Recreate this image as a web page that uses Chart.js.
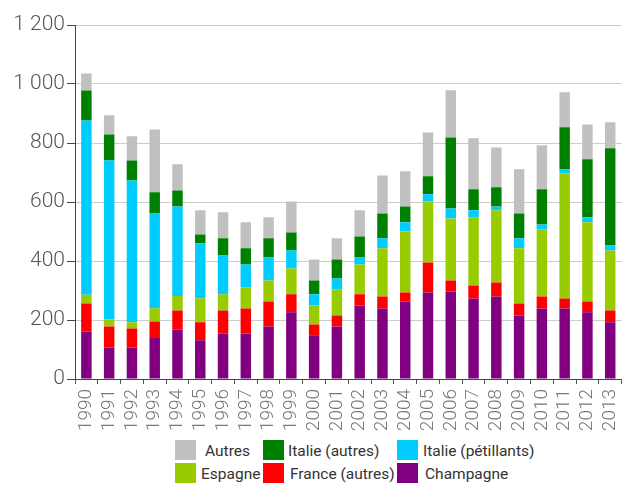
<!DOCTYPE html>
<html>
<head>
<meta charset="utf-8">
<script src="https://cdn.jsdelivr.net/npm/chart.js@4.4.1/dist/chart.umd.min.js"></script>
<style>
  html, body { margin: 0; padding: 0; background: #fff; overflow: hidden; }
  #wrap { position: relative; width: 633px; height: 485px; overflow: hidden; }
  #chart { position: absolute; left: 0; top: 0; }
  .legend { position: absolute; font-family: 'Roboto', sans-serif; font-size: 15.5px; color: #333; }
  .item { position: absolute; white-space: nowrap; line-height: 20px; }
  .item span.box { position: absolute; left: 0; top: 0; width: 21px; height: 20px; }
</style>
</head>
<body>
<div id="wrap">
  <canvas id="chart" width="638" height="436"></canvas>
  <div class="legend" id="legend"></div>
</div>
<script>
// Data (millions of bottles)
const years = ['1990','1991','1992','1993','1994','1995','1996','1997','1998','1999','2000','2001',
               '2002','2003','2004','2005','2006','2007','2008','2009','2010','2011','2012','2013'];
const champagne    = [161,107,107,139,168,131,154,154,178,226,148,178,249,239,263,293,297,273,280,215,239,239,226,192];
const franceAutres = [95,71,64,56,64,61,78,85,85,61,37,37,38,41,30,102,37,44,47,41,41,34,37,40];
const espagne      = [30,24,21,45,49,82,55,71,71,88,64,89,101,163,207,207,210,231,245,187,227,424,268,204];
const italiePet    = [590,539,481,321,304,186,132,78,78,61,38,37,24,34,31,24,34,24,13,34,17,14,17,17];
const italieAutres = [102,88,68,72,54,30,58,55,65,61,47,64,71,84,54,61,241,71,65,84,119,142,197,329];
const autres       = [58,65,82,213,89,82,88,88,71,105,71,72,89,129,119,149,160,173,135,150,149,119,118,88];
const yTicks = [0, 200, 400, 600, 800, 1000, 1200];

const series = [
    { label: 'Champagne',           data: champagne,    color: '#800080' },
    { label: 'France (autres)',     data: franceAutres, color: '#ff0000' },
    { label: 'Espagne',             data: espagne,      color: '#99cc00' },
    { label: 'Italie (pétillants)', data: italiePet,    color: '#00ccff' },
    { label: 'Italie (autres)',     data: italieAutres, color: '#008000' },
    { label: 'Autres',              data: autres,       color: '#c0c0c0' }
];

const fmt = v => String(v).replace(/\B(?=(\d{3})+(?!\d))/g, ' ');

new Chart(document.getElementById('chart'), {
    type: 'bar',
    data: {
        labels: years,
        datasets: series.map(s => ({
            label: s.label,
            data: s.data,
            backgroundColor: s.color,
            borderWidth: 0,
            barPercentage: 0.46,
            categoryPercentage: 1
        }))
    },
    options: {
        responsive: false,
        animation: false,
        devicePixelRatio: 1,
        layout: { padding: { top: 25, left: 0, right: 0, bottom: 0 } },
        plugins: { legend: { display: false }, tooltip: { enabled: false } },
        scales: {
            x: {
                stacked: true,
                grid: { display: true, drawOnChartArea: false, tickLength: 5, color: '#555', offset: true },
                border: { color: '#444', width: 1 },
                ticks: {
                    autoSkip: false,
                    maxRotation: 90, minRotation: 90, padding: 5,
                    color: '#777',
                    font: { family: 'Roboto', weight: 300, size: 19 }
                },
                afterFit: scale => { scale.height = 57; }
            },
            y: {
                stacked: true,
                min: 0, max: 1200,
                afterBuildTicks: scale => { scale.ticks = yTicks.map(v => ({ value: v })); },
                grid: { color: '#cccccc', lineWidth: 1, tickLength: 8, tickColor: '#444' },
                border: { color: '#444', width: 1 },
                ticks: {
                    padding: 2,
                    color: '#555',
                    font: { family: 'Roboto', weight: 300, size: 21 },
                    callback: v => fmt(v)
                },
                afterFit: scale => { scale.width = 75; }
            }
        }
    }
});

// Legend in 2 rows x 3 columns, same order as the reference
const legendOrder = ['Autres', 'Italie (autres)', 'Italie (pétillants)', 'Espagne', 'France (autres)', 'Champagne'];
const colX = [175, 263, 397];
const rowY = [440, 463];
const textX = [[205, 288, 423], [201, 290, 425]];
const legend = document.getElementById('legend');
legendOrder.forEach((name, i) => {
    const s = series.find(d => d.label === name);
    const r = Math.floor(i / 3), c = i % 3;
    const box = document.createElement('div');
    box.className = 'item';
    box.style.left = colX[c] + 'px';
    box.style.top = rowY[r] + 'px';
    box.innerHTML = '<span class="box" style="background:' + s.color + '"></span>';
    legend.appendChild(box);
    const txt = document.createElement('div');
    txt.className = 'item';
    txt.style.left = textX[r][c] + 'px';
    txt.style.top = (rowY[r] + 1) + 'px';
    txt.textContent = name;
    legend.appendChild(txt);
});
</script>
</body>
</html>
